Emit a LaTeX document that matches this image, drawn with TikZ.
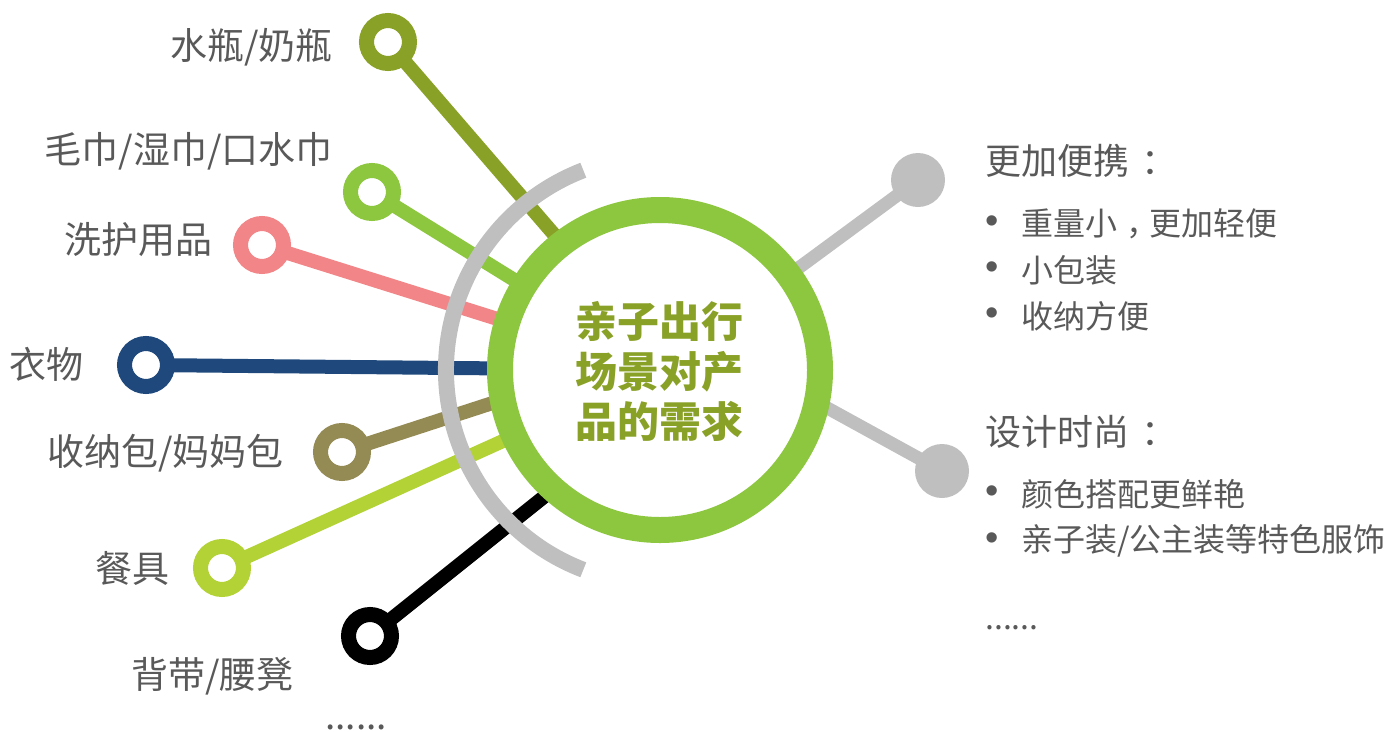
\documentclass[tikz,border=0pt]{standalone}
\usepackage{fontspec}
\setmainfont{Noto Sans CJK SC}
\newfontfamily\bulletfont{Liberation Sans}
\usetikzlibrary{backgrounds}
\definecolor{txt}{HTML}{595959}
\definecolor{colA}{HTML}{8AA128}
\definecolor{colB}{HTML}{8DC63F}
\definecolor{colC}{HTML}{F28587}
\definecolor{colD}{HTML}{1F497D}
\definecolor{colE}{HTML}{948A54}
\definecolor{colF}{HTML}{B2D235}
\definecolor{colG}{HTML}{000000}
\definecolor{gry}{HTML}{BFBFBF}
\definecolor{hubgreen}{HTML}{8DC63F}
\definecolor{titlecol}{HTML}{8AA128}
\begin{document}
\begin{tikzpicture}[x=1pt,y=-1pt,
  lbl/.style={font=\fontsize{37}{40}\selectfont, text=txt, inner sep=0pt},
  hdr/.style={font=\fontsize{36}{40}\selectfont, text=txt, inner sep=0pt, anchor=west},
  itm/.style={font=\fontsize{32}{36}\selectfont, text=txt, inner sep=0pt, anchor=west},
  bul/.style={font=\bulletfont\fontsize{38}{40}\selectfont, text=txt, inner sep=0pt, anchor=center},
  spoke/.style={line width=14pt},
  graysp/.style={line width=13pt, draw=gry},
  ringnode/.style={circle, line width=15pt, fill=white, minimum size=43pt, inner sep=0pt},
  dotnode/.style={circle, fill=gry, minimum size=54pt, inner sep=0pt},
  hub/.style={circle, draw=hubgreen, line width=26pt, fill=white, minimum size=320pt, inner sep=0pt},
  title/.style={font=\bfseries\fontsize{42}{50}\selectfont, text=titlecol, align=center, inner sep=0pt}
]
\useasboundingbox (0,0) rectangle (1391,731);

% hub and title
\node[hub] (hub) at (660,370) {};
\node[title] (ttl) at (659,371) {亲子出行\\场景对产\\品的需求};

% left ring nodes
\node[ringnode, draw=colA] (n1) at (388,42) {};
\node[ringnode, draw=colB] (n2) at (372,192) {};
\node[ringnode, draw=colC] (n3) at (262,245) {};
\node[ringnode, draw=colD] (n4) at (146,365) {};
\node[ringnode, draw=colE] (n5) at (342,452) {};
\node[ringnode, draw=colF] (n6) at (222,568) {};
\node[ringnode, draw=colG] (n7) at (370,636) {};

% right dots
\node[dotnode] (d1) at (918,180) {};
\node[dotnode] (d2) at (942,471) {};

% spoke ends hidden behind hub
\coordinate (e1) at (608,297);
\coordinate (e5) at (600,368);
\coordinate (e7) at (600,452);
\coordinate (f2) at (740,360);

\begin{scope}[on background layer]
  \draw[spoke, colA] (n1.center) -- (e1);
  \draw[spoke, colB] (n2.center) -- (hub.center);
  \draw[spoke, colC] (n3.center) -- (hub.center);
  \draw[spoke, colD] (n4.center) -- (hub.center);
  \draw[spoke, colE] (n5.center) -- (e5);
  \draw[spoke, colF] (n6.center) -- (hub.center);
  \draw[spoke, colG] (n7.center) -- (e7);
  \draw[graysp] (d1.center) -- (hub.center);
  \draw[graysp] (d2.center) -- (f2);
  \draw[line width=16pt, gry] ([shift={(111:214)}]hub.center) arc[start angle=111, end angle=249, radius=214];
\end{scope}

% left labels
\node[lbl, anchor=east] (l1) at (333,47) {水瓶/奶瓶};
\node[lbl, anchor=east] (l2) at (333,151) {毛巾/湿巾/口水巾};
\node[lbl, anchor=east] (l3) at (213,240) {洗护用品};
\node[lbl, anchor=east] (l4) at (84,364) {衣物};
\node[lbl, anchor=east] (l5) at (284,453) {收纳包/妈妈包};
\node[lbl, anchor=east] (l6) at (170,568) {餐具};
\node[lbl, anchor=east] (l7) at (294,676) {背带/腰凳};
\node[lbl, anchor=west] (l8) at (325,727) {......};

% right texts
\node[hdr] (h1) at (985,161) {更加便携\kern0.35em：};
\node[bul] (b1) at (992,225) {•};
\node[itm] (t1) at (1021,224) {重量小\kern0.3em，\kern-0.3em更加轻便};
\node[bul] (b2) at (992,271) {•};
\node[itm] (t2) at (1021,270) {小包装};
\node[bul] (b3) at (992,317) {•};
\node[itm] (t3) at (1021,316) {收纳方便};
\node[hdr] (h2) at (985,432) {设计时尚\kern0.35em：};
\node[bul] (b4) at (992,495) {•};
\node[itm] (t4) at (1021,494) {颜色搭配更鲜艳};
\node[bul] (b5) at (992,542) {•};
\node[itm] (t5) at (1021,541) {亲子装/公主装等特色服饰};
\node[itm] (t6) at (985,628) {......};
\end{tikzpicture}
\end{document}
